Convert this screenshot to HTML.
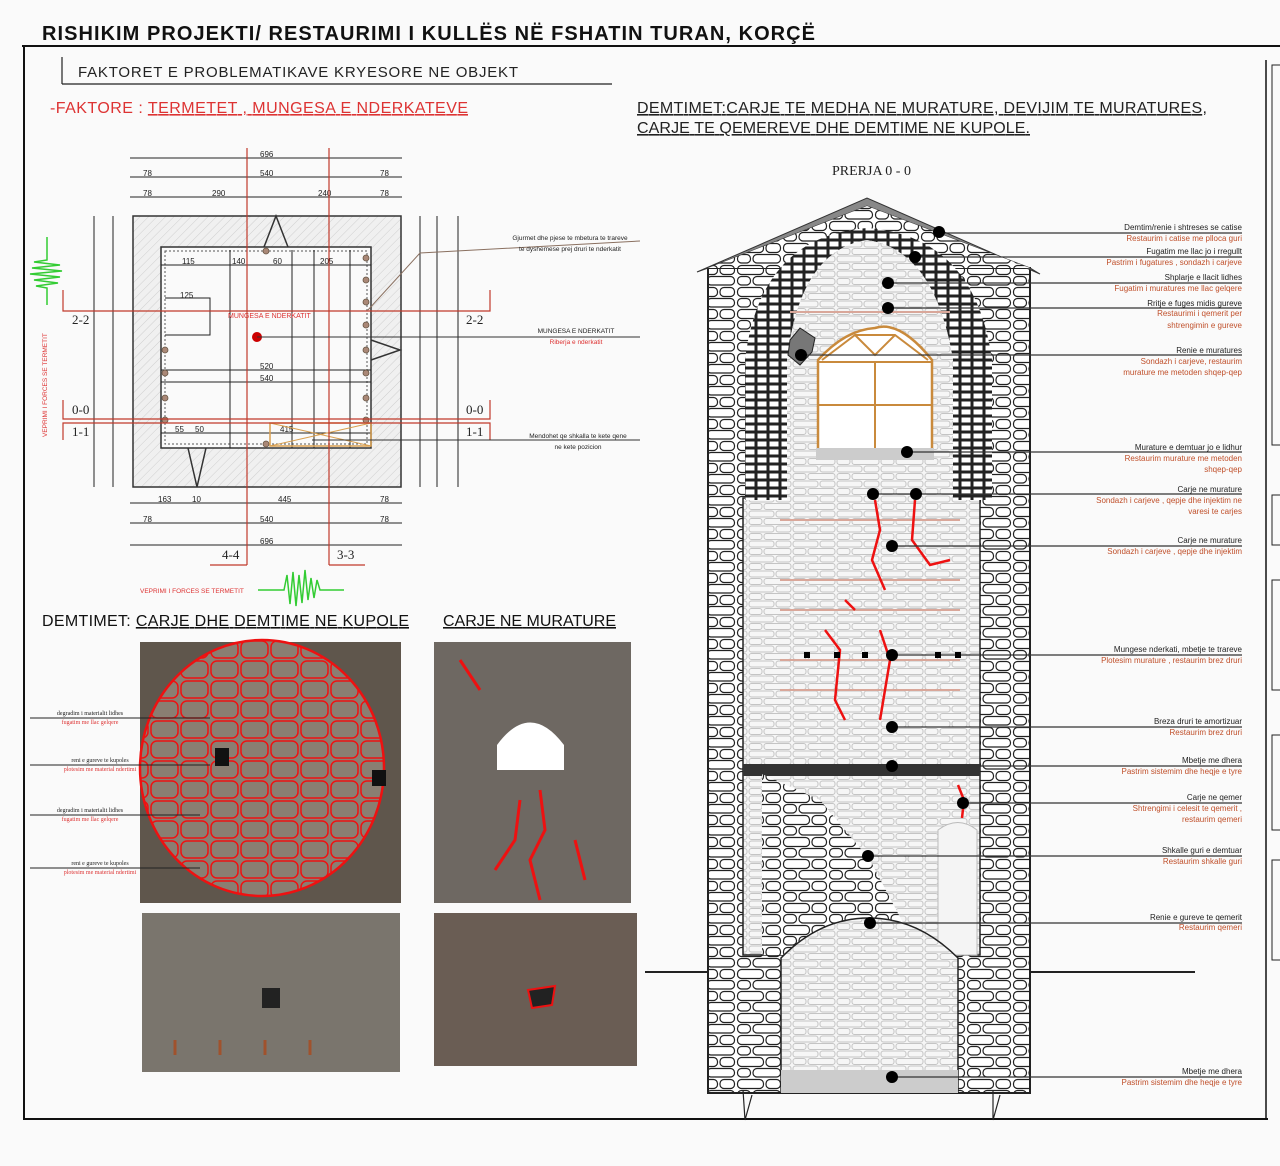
<!DOCTYPE html>
<html><head><meta charset="utf-8">
<style>
body{margin:0;background:#fafafa;}
svg{display:block;font-family:"Liberation Sans",sans-serif;}
</style></head>
<body>
<svg width="1280" height="1166" viewBox="0 0 1280 1166" xmlns="http://www.w3.org/2000/svg">
<defs>
<pattern id="stone" width="46" height="22" patternUnits="userSpaceOnUse">
<rect width="46" height="22" fill="#fff"/>
<rect x="1.5" y="1.5" width="26" height="9" rx="4" fill="#fff" stroke="#222" stroke-width="1.2"/>
<rect x="30" y="1.5" width="14.5" height="9" rx="4" fill="#fff" stroke="#222" stroke-width="1.2"/>
<rect x="1.5" y="12.5" width="13" height="8.5" rx="4" fill="#fff" stroke="#222" stroke-width="1.2"/>
<rect x="17" y="12.5" width="27.5" height="8.5" rx="4" fill="#fff" stroke="#222" stroke-width="1.2"/>
</pattern>
<pattern id="stonel" width="44" height="15" patternUnits="userSpaceOnUse">
<rect width="44" height="15" fill="#f6f6f6"/>
<rect x="1" y="1" width="25" height="6" rx="2.5" fill="none" stroke="#c4c4c4" stroke-width="1"/>
<rect x="28" y="1" width="15" height="6" rx="2.5" fill="none" stroke="#c4c4c4" stroke-width="1"/>
<rect x="1" y="8.5" width="13" height="6" rx="2.5" fill="none" stroke="#c4c4c4" stroke-width="1"/>
<rect x="16" y="8.5" width="27" height="6" rx="2.5" fill="none" stroke="#c4c4c4" stroke-width="1"/>
</pattern>
<pattern id="brick" width="12" height="8" patternUnits="userSpaceOnUse">
<rect width="12" height="8" fill="#222"/>
<rect x="1.5" y="1.5" width="9" height="5" fill="#fff"/>
</pattern>
<pattern id="hatch" width="6" height="6" patternUnits="userSpaceOnUse" patternTransform="rotate(45)">
<rect width="6" height="6" fill="#f0f0f0"/><line x1="0" y1="0" x2="0" y2="6" stroke="#cfcfcf" stroke-width="1"/>
</pattern>
<pattern id="redweb" width="30" height="20" patternUnits="userSpaceOnUse">
<rect x="1" y="1" width="27" height="17" rx="6" fill="none" stroke="#e11" stroke-width="1.5"/>
</pattern>
</defs>

<rect width="1280" height="1166" fill="#fafafa"/>
<text x="42" y="40" font-size="20" font-weight="bold" fill="#111" textLength="773" lengthAdjust="spacing">RISHIKIM PROJEKTI/ RESTAURIMI I  KULLËS NË FSHATIN TURAN, KORÇË</text>
<line x1="22" y1="46" x2="1280" y2="46" stroke="#111" stroke-width="2"/>
<line x1="24" y1="46" x2="24" y2="1120" stroke="#111" stroke-width="2"/>
<line x1="24" y1="1119" x2="1268" y2="1119" stroke="#111" stroke-width="2"/>
<line x1="1266" y1="60" x2="1266" y2="1119" stroke="#111" stroke-width="1.5"/>
<rect x="1272" y="65" width="10" height="380" fill="none" stroke="#222"/>
<rect x="1272" y="495" width="10" height="50" fill="none" stroke="#222"/>
<rect x="1272" y="580" width="10" height="110" fill="none" stroke="#222"/>
<rect x="1272" y="735" width="10" height="95" fill="none" stroke="#222"/>
<rect x="1272" y="860" width="10" height="100" fill="none" stroke="#222"/>

<text x="78" y="77" font-size="15" fill="#222" textLength="440" lengthAdjust="spacing">FAKTORET E PROBLEMATIKAVE KRYESORE NE OBJEKT</text>
<line x1="62" y1="84" x2="612" y2="84" stroke="#222" stroke-width="1.2"/>
<line x1="62" y1="57" x2="62" y2="84" stroke="#222" stroke-width="1.2"/>
<text x="50" y="113" font-size="16" fill="#d33" textLength="418" lengthAdjust="spacing">-FAKTORE : <tspan text-decoration="underline">TERMETET ,  MUNGESA E NDERKATEVE</tspan></text>
<text x="637" y="113" font-size="16" fill="#222" text-decoration="underline" textLength="570" lengthAdjust="spacing">DEMTIMET:CARJE TE MEDHA NE MURATURE, DEVIJIM TE MURATURES,</text>
<text x="637" y="133" font-size="16" fill="#222" text-decoration="underline" textLength="393" lengthAdjust="spacing">CARJE TE QEMEREVE DHE DEMTIME NE KUPOLE.</text>
<text x="832" y="175" font-size="14" fill="#222" font-family="Liberation Serif,serif">PRERJA 0 - 0</text>

<!-- PLAN -->
<g font-size="8" fill="#222">
<rect x="133" y="216" width="268" height="271" fill="url(#hatch)" stroke="#333" stroke-width="1.5"/>
<rect x="161" y="247" width="210" height="201" fill="#fafafa" stroke="#333" stroke-width="1.5"/>
<rect x="165" y="251" width="202" height="193" fill="none" stroke="#555" stroke-dasharray="2 2"/>
<polyline points="264,247 276,216 288,247" fill="none" stroke="#333" stroke-width="1.5"/>
<polyline points="188,448 197,487 206,448" fill="none" stroke="#333" stroke-width="1.5"/>
<polyline points="371,340 400,350 371,360" fill="none" stroke="#333" stroke-width="1.5"/>
<g stroke="#222" stroke-width="1">
<line x1="130" y1="158" x2="402" y2="158"/><line x1="130" y1="177" x2="402" y2="177"/><line x1="130" y1="197" x2="402" y2="197"/>
<line x1="130" y1="503" x2="402" y2="503"/><line x1="130" y1="523" x2="402" y2="523"/><line x1="130" y1="545" x2="402" y2="545"/>
<line x1="94" y1="216" x2="94" y2="487"/><line x1="113" y1="216" x2="113" y2="487"/>
<line x1="420" y1="216" x2="420" y2="487"/><line x1="437" y1="216" x2="437" y2="487"/><line x1="458" y1="216" x2="458" y2="487"/>
<line x1="161" y1="265" x2="371" y2="265"/><line x1="161" y1="370" x2="371" y2="370"/><line x1="161" y1="382" x2="371" y2="382"/><line x1="161" y1="433" x2="371" y2="433"/>
<line x1="230" y1="250" x2="230" y2="448"/><line x1="292" y1="250" x2="292" y2="448"/><line x1="314" y1="250" x2="314" y2="448"/><line x1="350" y1="250" x2="350" y2="448"/>
<polyline points="165,298 210,298 210,335 165,335" fill="none"/>
</g>
<text x="260" y="157">696</text><text x="143" y="176">78</text><text x="260" y="176">540</text><text x="380" y="176">78</text>
<text x="143" y="196">78</text><text x="212" y="196">290</text><text x="318" y="196">240</text><text x="380" y="196">78</text>
<text x="158" y="502">163</text><text x="192" y="502">10</text><text x="278" y="502">445</text><text x="380" y="502">78</text>
<text x="143" y="522">78</text><text x="260" y="522">540</text><text x="380" y="522">78</text><text x="260" y="544">696</text>
<text x="182" y="264">115</text><text x="232" y="264">140</text><text x="273" y="264">60</text><text x="320" y="264">205</text>
<text x="180" y="298">125</text><text x="260" y="369">520</text><text x="260" y="381">540</text><text x="175" y="432">55</text><text x="195" y="432">50</text><text x="280" y="432">415</text>
<text x="228" y="318" fill="#d33" font-size="7">MUNGESA E NDERKATIT</text>
</g>
<circle cx="257" cy="337" r="5" fill="#c00"/>
<g fill="#a87" stroke="#654" stroke-width=".8">
<circle cx="266" cy="251" r="3"/><circle cx="366" cy="258" r="3"/><circle cx="366" cy="280" r="3"/><circle cx="366" cy="302" r="3"/><circle cx="366" cy="325" r="3"/><circle cx="366" cy="350" r="3"/><circle cx="366" cy="373" r="3"/><circle cx="366" cy="398" r="3"/><circle cx="366" cy="420" r="3"/>
<circle cx="165" cy="350" r="3"/><circle cx="165" cy="373" r="3"/><circle cx="165" cy="398" r="3"/><circle cx="165" cy="420" r="3"/><circle cx="266" cy="444" r="3"/>
</g>
<rect x="270" y="423" width="101" height="23" fill="none" stroke="#d9a050" stroke-width="1.5"/>
<line x1="270" y1="423" x2="371" y2="446" stroke="#d9a050"/><line x1="270" y1="446" x2="371" y2="423" stroke="#d9a050"/>
<g stroke="#c0392b" stroke-width="1.2" fill="none">
<line x1="247" y1="148" x2="247" y2="565"/><line x1="329" y1="148" x2="329" y2="565"/>
<polyline points="63,290 63,311 490,311 490,290"/>
<polyline points="63,400 63,419 490,419 490,400"/>
<polyline points="63,440 63,423 490,423 490,440"/>
<polyline points="247,565 210,565"/><polyline points="329,565 365,565"/>
</g>
<polyline points="368,310 420,253 640,241" fill="none" stroke="#8a7060" stroke-width="1"/>
<g font-family="Liberation Serif,serif" font-size="13" fill="#222">
<text x="72" y="324">2-2</text><text x="466" y="324">2-2</text>
<text x="72" y="414">0-0</text><text x="466" y="414">0-0</text>
<text x="72" y="436">1-1</text><text x="466" y="436">1-1</text>
<text x="222" y="559">4-4</text><text x="337" y="559">3-3</text>
</g>
<g stroke="#333" stroke-width="1"><line x1="257" y1="337" x2="640" y2="337"/><line x1="312" y1="440" x2="640" y2="440"/></g>
<g font-size="6.5" fill="#222" text-anchor="middle">
<text x="570" y="240">Gjurmet dhe pjese te mbetura te trareve</text>
<text x="570" y="251">te dyshemese prej druri te nderkatit</text>
<text x="576" y="333">MUNGESA E NDERKATIT</text><text x="576" y="344" fill="#d33">Riberja e nderkatit</text>
<text x="578" y="438">Mendohet qe shkalla te kete qene</text><text x="578" y="449">ne kete pozicion</text>
</g>
<text x="140" y="593" font-size="6.5" fill="#d33">VEPRIMI I FORCES SE TERMETIT</text>
<text transform="translate(47,437) rotate(-90)" font-size="6.5" fill="#d33">VEPRIMI I FORCES SE TERMETIT</text>
<path d="M258,590 L284,590 L287,575 L290,604 L293,572 L296,606 L299,575 L302,603 L305,570 L308,600 L311,578 L314,598 L317,580 L320,590 L344,590" fill="none" stroke="#3c3" stroke-width="1.5"/>
<path d="M47,237 L47,260 L34,262 L60,265 L32,268 L62,271 L30,274 L60,277 L34,280 L58,283 L36,286 L47,288 L47,305" fill="none" stroke="#3c3" stroke-width="1.5"/>

<text x="42" y="626" font-size="16" fill="#111" textLength="367" lengthAdjust="spacing">DEMTIMET: <tspan text-decoration="underline">CARJE DHE DEMTIME NE KUPOLE</tspan></text>
<text x="443" y="626" font-size="16" fill="#111" text-decoration="underline" textLength="173" lengthAdjust="spacing">CARJE NE MURATURE</text>

<!-- photos -->
<rect x="140" y="642" width="261" height="261" fill="#5f564c"/>
<ellipse cx="262" cy="768" rx="122" ry="128" fill="#8a7e72"/>
<ellipse cx="262" cy="768" rx="122" ry="128" fill="url(#redweb)" stroke="#e11" stroke-width="2.5"/>
<rect x="215" y="748" width="14" height="18" fill="#111"/><rect x="372" y="770" width="14" height="16" fill="#111"/>
<g stroke="#222" stroke-width="1"><line x1="30" y1="718" x2="210" y2="718"/><line x1="30" y1="765" x2="210" y2="765"/><line x1="30" y1="815" x2="200" y2="815"/><line x1="30" y1="868" x2="200" y2="868"/></g>
<g font-size="6" fill="#222" font-family="Liberation Serif,serif" text-anchor="middle">
<text x="90" y="715">degradim i materialit lidhes</text><text x="90" y="724" fill="#d33">fugatim me llac gelqere</text>
<text x="100" y="762">reni e gureve te kupoles</text><text x="100" y="771" fill="#d33">plotesim me material ndertimi</text>
<text x="90" y="812">degradim i materialit lidhes</text><text x="90" y="821" fill="#d33">fugatim me llac gelqere</text>
<text x="100" y="865">reni e gureve te kupoles</text><text x="100" y="874" fill="#d33">plotesim me material ndertimi</text>
</g>
<rect x="142" y="913" width="258" height="159" fill="#7a756d"/>
<rect x="262" y="988" width="18" height="20" fill="#222"/>
<g stroke="#a0522d" stroke-width="3"><line x1="175" y1="1040" x2="175" y2="1055"/><line x1="220" y1="1040" x2="220" y2="1055"/><line x1="265" y1="1040" x2="265" y2="1055"/><line x1="310" y1="1040" x2="310" y2="1055"/></g>
<rect x="434" y="642" width="197" height="261" fill="#6e6862"/>
<path d="M497,770 L497,745 Q530,700 564,745 L564,770 Z" fill="#fff"/>
<g stroke="#e11" stroke-width="3" fill="none"><path d="M540,790 L545,830 L530,860 L540,900"/><path d="M520,800 L515,840 L495,870"/><path d="M575,840 L585,880"/><path d="M460,660 L480,690"/></g>
<rect x="434" y="913" width="203" height="153" fill="#6a5d54"/>
<path d="M528,990 L555,986 L552,1005 L532,1008 Z" fill="#222" stroke="#e11" stroke-width="2"/>

<!-- TOWER -->
<line x1="645" y1="972" x2="1195" y2="972" stroke="#222" stroke-width="2"/>
<rect x="708" y="268" width="322" height="825" fill="url(#stone)" stroke="#222" stroke-width="2"/>
<polygon points="697,272 867,198 1040,274 1030,268 867,206 708,268" fill="#888" stroke="#333"/>
<polygon points="708,268 867,206 1030,268" fill="url(#stone)"/>
<rect x="743" y="498" width="237" height="457" fill="url(#stonel)" stroke="#222" stroke-width="1.5"/>
<path d="M745,500 L745,360 Q760,236 867,228 Q975,236 992,360 L992,500 Z M787,500 L787,360 Q800,250 867,240 Q935,250 953,360 L953,500 Z" fill="url(#brick)" fill-rule="evenodd"/>
<path d="M787,500 L787,360 Q800,250 867,240 Q935,250 953,360 L953,500 Z" fill="url(#stonel)"/>
<g stroke="#d9a79a" stroke-width="2"><line x1="780" y1="520" x2="960" y2="520"/><line x1="780" y1="580" x2="960" y2="580"/><line x1="780" y1="610" x2="960" y2="610"/><line x1="780" y1="690" x2="960" y2="690"/><line x1="790" y1="312" x2="950" y2="312"/><line x1="780" y1="660" x2="960" y2="660"/></g>
<rect x="743" y="764" width="237" height="12" fill="#333"/>
<path d="M762,774 L762,955 L920,955 L870,860 L820,800 Z" fill="url(#stone)"/>
<path d="M938,955 L938,830 Q958,815 977,830 L977,955 Z" fill="#f4f4f4" stroke="#bbb"/>
<path d="M781,1093 L781,958 Q820,918 869,918 Q918,918 958,958 L958,1093 Z" fill="url(#stonel)" stroke="#222" stroke-width="1.5"/>
<rect x="781" y="1070" width="177" height="23" fill="#ccc"/>
<path d="M818,360 L818,450 L932,450 L932,360 Q900,320 875,328 Q845,330 818,360 Z" fill="#fff" stroke="#c98a3c" stroke-width="2.5"/>
<g stroke="#c98a3c" stroke-width="2"><line x1="818" y1="362" x2="932" y2="362"/><line x1="818" y1="405" x2="932" y2="405"/><line x1="875" y1="362" x2="875" y2="450"/><polyline points="822,360 855,335 895,335 928,360" fill="none"/><polyline points="855,335 875,355 895,335" fill="none"/></g>
<rect x="816" y="448" width="118" height="12" fill="#ccc"/>
<path d="M790,340 L800,328 L815,338 L812,352 L800,365 L788,355 Z" fill="#777" stroke="#222"/>
<g stroke="#e11" stroke-width="2.5" fill="none">
<path d="M875,500 L880,530 L872,560 L885,590"/><path d="M915,500 L912,540 L930,565 L950,560"/><path d="M845,600 L855,610"/><path d="M825,630 L840,650 L835,700 L845,720"/><path d="M880,630 L890,660 L880,720"/><path d="M958,785 L964,800 L962,818"/>
</g>
<g stroke="#333" stroke-width="1.2">
<line x1="939" y1="233" x2="1242" y2="233"/><line x1="915" y1="257" x2="1242" y2="257"/><line x1="890" y1="283" x2="1242" y2="283"/><line x1="888" y1="308" x2="1242" y2="308"/><line x1="801" y1="355" x2="1242" y2="355"/><line x1="907" y1="452" x2="1242" y2="452"/><line x1="873" y1="494" x2="1242" y2="494"/><line x1="892" y1="546" x2="1242" y2="546"/><line x1="892" y1="655" x2="1242" y2="655"/><line x1="892" y1="727" x2="1242" y2="727"/><line x1="892" y1="766" x2="1242" y2="766"/><line x1="963" y1="803" x2="1242" y2="803"/><line x1="868" y1="856" x2="1242" y2="856"/><line x1="870" y1="923" x2="1242" y2="923"/><line x1="892" y1="1077" x2="1242" y2="1077"/>
</g>
<g fill="#000">
<circle cx="939" cy="232" r="6"/><circle cx="915" cy="257" r="6"/><circle cx="888" cy="283" r="6"/><circle cx="888" cy="308" r="6"/><circle cx="801" cy="355" r="6"/><circle cx="907" cy="452" r="6"/><circle cx="873" cy="494" r="6"/><circle cx="916" cy="494" r="6"/><circle cx="892" cy="546" r="6"/><circle cx="892" cy="655" r="6"/><circle cx="892" cy="727" r="6"/><circle cx="892" cy="766" r="6"/><circle cx="963" cy="803" r="6"/><circle cx="868" cy="856" r="6"/><circle cx="870" cy="923" r="6"/><circle cx="892" cy="1077" r="6"/>
</g>
<g fill="#000"><rect x="804" y="652" width="6" height="6"/><rect x="834" y="652" width="6" height="6"/><rect x="862" y="652" width="6" height="6"/><rect x="935" y="652" width="6" height="6"/><rect x="955" y="652" width="6" height="6"/></g>
<g font-size="8" text-anchor="end" fill="#222">
<text x="1242" y="230">Demtim/renie i shtreses se catise</text><text x="1242" y="241" fill="#c0502b">Restaurim  i catise  me pllocа guri</text>
<text x="1242" y="254">Fugatim me llac   jo i rregullt</text><text x="1242" y="265" fill="#c0502b">Pastrim i fugatures  , sondazh i carjeve</text>
<text x="1242" y="280">Shplarje e llacit lidhes</text><text x="1242" y="291" fill="#c0502b">Fugatim i muratures me llac gelqere</text>
<text x="1242" y="306">Rritje e fuges midis gureve</text><text x="1242" y="316" fill="#c0502b">Restaurimi i qemerit  per</text><text x="1242" y="328" fill="#c0502b">shtrengimin e gureve</text>
<text x="1242" y="353">Renie e muratures</text><text x="1242" y="364" fill="#c0502b">Sondazh i carjeve, restaurim</text><text x="1242" y="375" fill="#c0502b">murature me metoden shqep-qep</text>
<text x="1242" y="450">Murature e demtuar jo e lidhur</text><text x="1242" y="461" fill="#c0502b">Restaurim murature me metoden</text><text x="1242" y="472" fill="#c0502b">shqep-qep</text>
<text x="1242" y="492">Carje ne murature</text><text x="1242" y="503" fill="#c0502b">Sondazh i carjeve , qepje dhe injektim ne</text><text x="1242" y="514" fill="#c0502b">varesi te carjes</text>
<text x="1242" y="543">Carje  ne murature</text><text x="1242" y="554" fill="#c0502b">Sondazh i carjeve , qepje dhe injektim</text>
<text x="1242" y="652">Mungese nderkati, mbetje te trareve</text><text x="1242" y="663" fill="#c0502b">Plotesim murature ,  restaurim brez druri</text>
<text x="1242" y="724">Breza druri te amortizuar</text><text x="1242" y="735" fill="#c0502b">Restaurim brez druri</text>
<text x="1242" y="763">Mbetje me dhera</text><text x="1242" y="774" fill="#c0502b">Pastrim sistemim  dhe heqje e tyre</text>
<text x="1242" y="800">Carje  ne qemer</text><text x="1242" y="811" fill="#c0502b">Shtrengimi i celesit te qemerit ,</text><text x="1242" y="822" fill="#c0502b">restaurim qemeri</text>
<text x="1242" y="853">Shkalle guri  e demtuar</text><text x="1242" y="864" fill="#c0502b">Restaurim shkalle guri</text>
<text x="1242" y="920">Renie e gureve te qemerit</text><text x="1242" y="930" fill="#c0502b">Restaurim qemeri</text>
<text x="1242" y="1074">Mbetje me dhera</text><text x="1242" y="1085" fill="#c0502b">Pastrim sistemim  dhe heqje e tyre</text>
</g>
<g stroke="#222" stroke-width="1.2" fill="none"><polyline points="743,1090 745,1120 752,1095"/><polyline points="993,1090 993,1120 1000,1095"/></g>
</svg>
</body></html>
